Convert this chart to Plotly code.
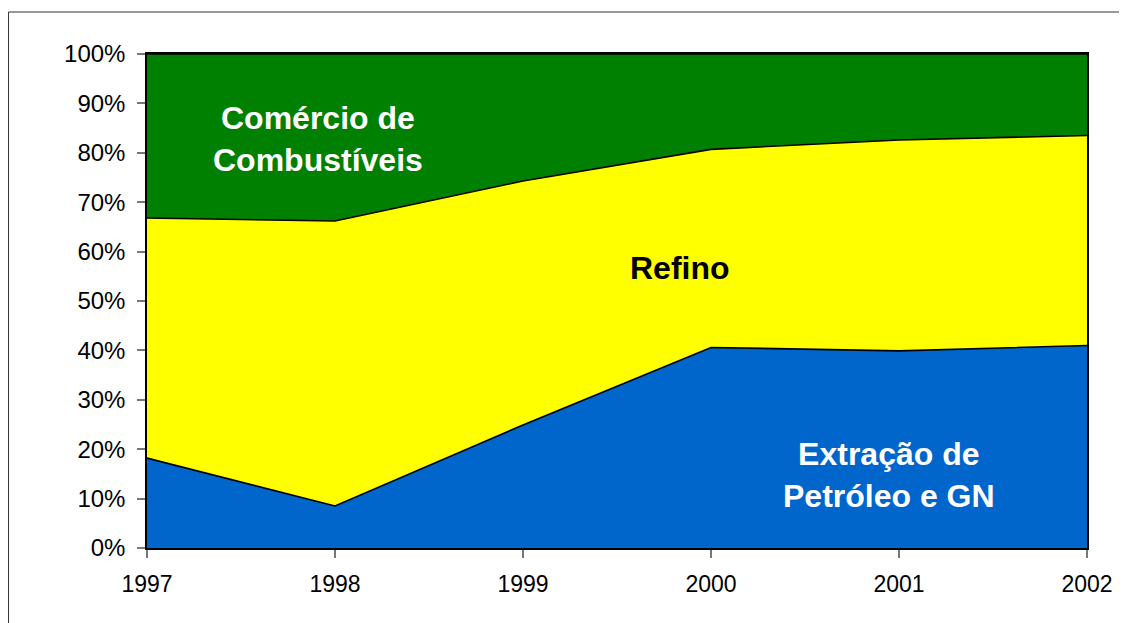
import plotly.graph_objects as go

years = [1997, 1998, 1999, 2000, 2001, 2002]
extracao = [18.2, 8.5, 24.9, 40.6, 39.9, 41.0]
refino = [48.6, 57.7, 49.4, 40.1, 42.7, 42.5]
comercio = [33.2, 33.8, 25.7, 19.3, 17.4, 16.5]

names = ["Extração de Petróleo e GN", "Refino", "Comércio de Combustíveis"]
colors = ["#0066CC", "#FFFF00", "#008000"]
series = [extracao, refino, comercio]

font_family = "Liberation Sans, Arial, sans-serif"

fig = go.Figure()
for name, vals, col in zip(names, series, colors):
    fig.add_trace(go.Scatter(
        x=years, y=vals, name=name, mode="lines",
        stackgroup="one", fillcolor=col,
        line=dict(color="black", width=1.6),
        hoverinfo="x+y+name",
    ))

border = dict(color="#333333", width=1)
fig.update_layout(
    width=1127, height=623,
    margin=dict(l=139, r=48, t=46, b=83),
    paper_bgcolor="white", plot_bgcolor="white",
    showlegend=False,
    font=dict(family=font_family, size=23, color="black"),
    xaxis=dict(
        range=[1997, 2002], tickmode="array", tickvals=years,
        ticktext=[str(y) for y in years],
        showgrid=False, zeroline=False,
        showline=True, linecolor="black", linewidth=1.5, mirror=True,
        ticks="outside", ticklen=8, tickcolor="#777777", tickwidth=1.5,
        ticklabelstandoff=7,
        tickfont=dict(size=23),
    ),
    yaxis=dict(
        range=[0, 100], dtick=10, ticksuffix="%",
        showgrid=False, zeroline=False,
        showline=True, linecolor="black", linewidth=1.5, mirror=True,
        ticks="outside", ticklen=8, tickcolor="#777777", tickwidth=1.5,
        ticklabelstandoff=7,
        tickfont=dict(size=24),
    ),
    shapes=[
        dict(type="line", xref="paper", yref="paper",
             x0=-0.1473, y0=1.085, x1=1.3, y1=1.085, line=border, layer="below"),
        dict(type="line", xref="paper", yref="paper",
             x0=-0.1473, y0=1.085, x1=-0.1473, y1=-0.3, line=border, layer="below"),
    ],
    annotations=[
        dict(x=1997.91, y=82.7, xref="x", yref="y",
             text="<b>Comércio de<br>Combustíveis</b>", showarrow=False,
             font=dict(family=font_family, size=32, color="white")),
        dict(x=1999.835, y=56.7, xref="x", yref="y",
             text="<b>Refino</b>", showarrow=False,
             font=dict(family=font_family, size=32, color="black")),
        dict(x=2000.947, y=14.8, xref="x", yref="y",
             text="<b>Extração de<br>Petróleo e GN</b>", showarrow=False,
             font=dict(family=font_family, size=32, color="white")),
    ],
)

fig.write_html("out.html")
